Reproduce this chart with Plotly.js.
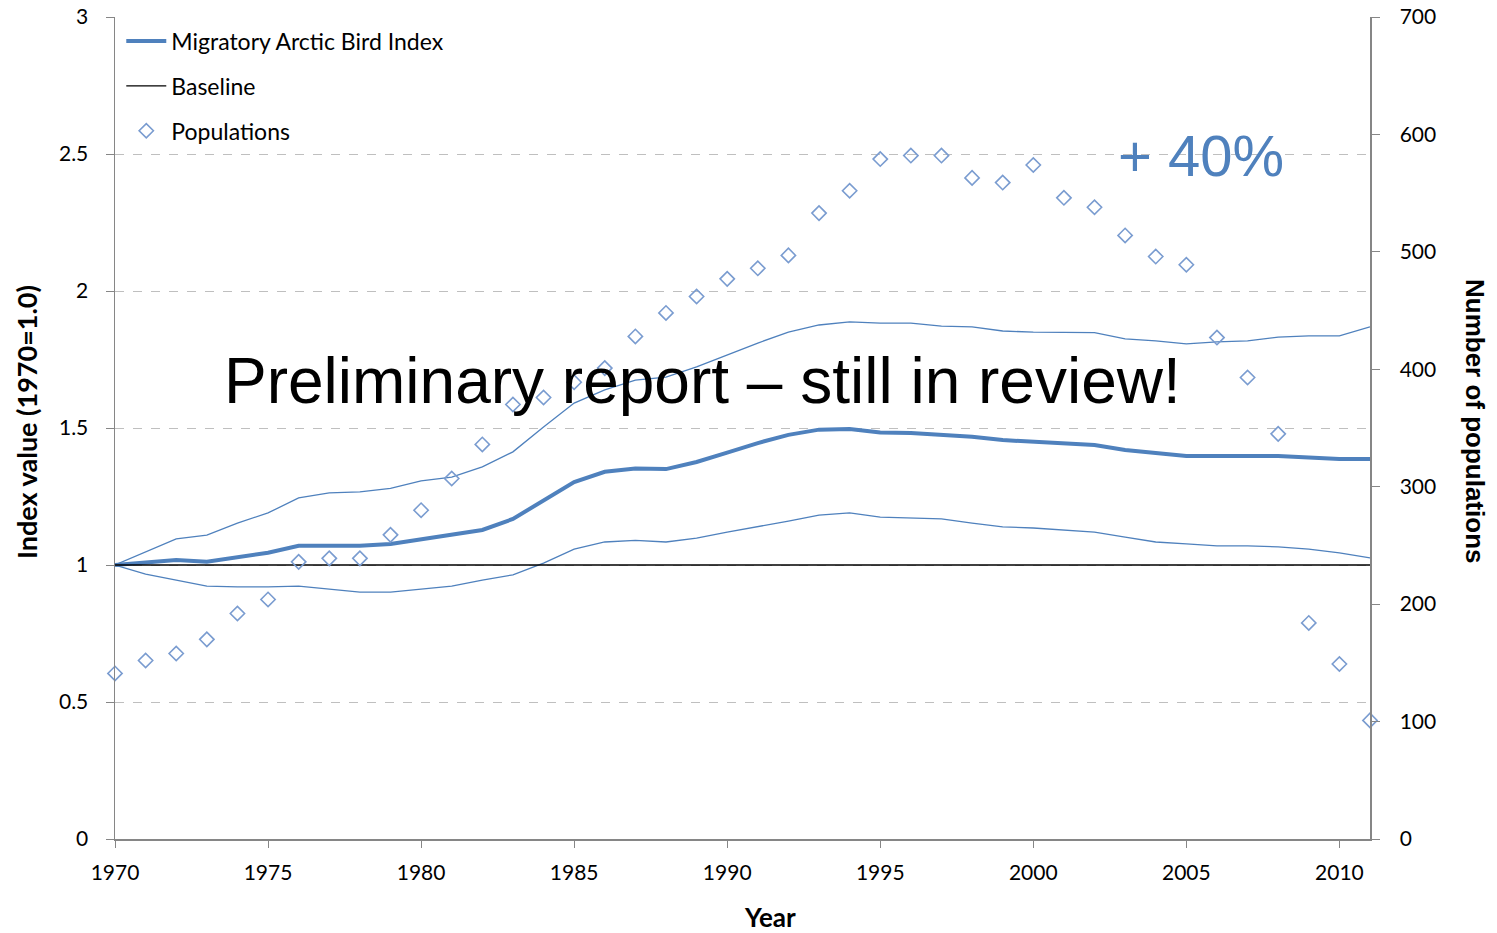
<!DOCTYPE html>
<html>
<head>
<meta charset="utf-8">
<script src="https://cdn.plot.ly/plotly-3.0.1.min.js"></script>
<style>html,body{margin:0;padding:0;background:#fff;}#chart{width:1497px;height:933px;}</style>
</head>
<body>
<div id="chart"></div>
<script>
const years = [1970,1971,1972,1973,1974,1975,1976,1977,1978,1979,1980,1981,1982,1983,1984,1985,1986,1987,1988,1989,1990,1991,1992,1993,1994,1995,1996,1997,1998,1999,2000,2001,2002,2003,2004,2005,2006,2007,2008,2009,2010,2011];
const indexValues = [1.0,1.01,1.018,1.012,1.028,1.045,1.07,1.07,1.07,1.077,1.095,1.113,1.128,1.168,1.237,1.303,1.34,1.352,1.35,1.376,1.41,1.445,1.475,1.494,1.496,1.484,1.482,1.476,1.468,1.456,1.45,1.445,1.438,1.42,1.409,1.398,1.398,1.398,1.398,1.392,1.387,1.387];
const upperBound = [1.0,1.047,1.095,1.109,1.153,1.19,1.245,1.263,1.267,1.28,1.307,1.321,1.358,1.413,1.504,1.591,1.639,1.675,1.686,1.723,1.766,1.81,1.85,1.876,1.887,1.883,1.883,1.872,1.869,1.854,1.85,1.848,1.848,1.825,1.818,1.807,1.814,1.818,1.832,1.836,1.836,1.869];
const lowerBound = [1.0,0.967,0.945,0.923,0.92,0.92,0.923,0.912,0.901,0.901,0.912,0.923,0.945,0.964,1.007,1.058,1.084,1.09,1.084,1.098,1.12,1.139,1.16,1.182,1.19,1.175,1.171,1.168,1.153,1.139,1.135,1.128,1.12,1.102,1.084,1.077,1.07,1.07,1.066,1.058,1.044,1.026];
const baselineValues = years.map(() => 1);
const populations = [141,152,158,170,192,204,236,239,239,259,280,307,336,370,376,389,401,428,448,462,477,486,497,533,552,579,582,582,563,559,574,546,538,514,496,489,427,393,345,184,149,101];

const blue = '#4F81BD';
const font = 'Lato, "Liberation Sans", sans-serif';
const arial = '"Liberation Sans", Arial, sans-serif';

const traces = [
  {x: years, y: upperBound, type: 'scatter', mode: 'lines', line: {color: blue, width: 1.3}, showlegend: false, hoverinfo: 'skip'},
  {x: years, y: lowerBound, type: 'scatter', mode: 'lines', line: {color: blue, width: 1.3}, showlegend: false, hoverinfo: 'skip'},
  {x: years, y: indexValues, type: 'scatter', mode: 'lines', name: 'Migratory Arctic Bird Index', legendgroup: 'a', legendrank: 1, line: {color: blue, width: 4}},
  {x: years, y: baselineValues, type: 'scatter', mode: 'lines', name: 'Baseline', legendgroup: 'b', legendrank: 2, line: {color: '#000000', width: 1.3}},
  {x: years, y: populations, type: 'scatter', mode: 'markers', name: 'Populations', legendgroup: 'c', legendrank: 3, yaxis: 'y2', cliponaxis: false,
   marker: {symbol: 'diamond-open', size: 11, color: '#7A9CD0', line: {width: 1.6, color: '#7A9CD0'}}}
];

const layout = {
  width: 1497, height: 933,
  margin: {l: 115, r: 127, t: 17, b: 94},
  paper_bgcolor: '#ffffff', plot_bgcolor: '#ffffff',
  font: {family: font, size: 21, color: '#000000'},
  showlegend: true,
  legend: {x: 0.005, y: 0.997, xanchor: 'left', yanchor: 'top', bgcolor: 'rgba(255,255,255,0)', traceorder: 'grouped', tracegroupgap: 12, itemwidth: 40, font: {family: font, size: 23, color: '#000'}},
  xaxis: {
    range: [1970, 2011], tick0: 1970, dtick: 5, showgrid: false, zeroline: false,
    showline: true, linecolor: '#868686', linewidth: 1.5, ticks: 'outside', ticklen: 7, tickcolor: '#868686',
    tickfont: {family: font, size: 21, color: '#000'}, ticklabelstandoff: 7
  },
  yaxis: {
    range: [0, 3], dtick: 0.5, showgrid: true, gridcolor: '#BFBFBF', griddash: 'dash', gridwidth: 1, zeroline: false,
    showline: true, linecolor: '#868686', linewidth: 1.5, ticks: 'outside', ticklen: 8, tickcolor: '#868686',
    tickfont: {family: font, size: 21, color: '#000'}, ticklabelstandoff: 13
  },
  yaxis2: {
    overlaying: 'y', side: 'right', range: [0, 700], dtick: 100, showgrid: false, zeroline: false,
    showline: true, linecolor: '#868686', linewidth: 1.5, ticks: 'outside', ticklen: 8, tickcolor: '#868686',
    tickfont: {family: font, size: 21, color: '#000'}, ticklabelstandoff: 16
  },
  annotations: [
    {text: '<b>Year</b>', xref: 'paper', yref: 'paper', x: 0.5219, y: -0.0949, xanchor: 'center', yanchor: 'middle', showarrow: false, font: {family: font, size: 26, color: '#000'}},
    {text: '<b>Index value (1970=1.0)</b>', textangle: -90, xref: 'paper', yref: 'paper', x: -0.0701, y: 0.5073, xanchor: 'center', yanchor: 'middle', showarrow: false, font: {family: font, size: 27, color: '#000'}},
    {text: '<b>Number of populations</b>', textangle: 90, xref: 'paper', yref: 'paper', x: 1.0837, y: 0.5085, xanchor: 'center', yanchor: 'middle', showarrow: false, font: {family: arial, size: 26, color: '#000'}},
    {text: 'Preliminary report \u2013 still in review!', xref: 'paper', yref: 'paper', x: 0.4685, y: 0.557, xanchor: 'center', yanchor: 'middle', showarrow: false, font: {family: arial, size: 64, color: '#000'}},
    {text: '+ 40%', xref: 'paper', yref: 'paper', x: 0.865, y: 0.832, xanchor: 'center', yanchor: 'middle', showarrow: false, font: {family: arial, size: 58, color: blue}}
  ]
};

Plotly.newPlot('chart', traces, layout, {displayModeBar: false, staticPlot: true});
</script>
</body>
</html>
